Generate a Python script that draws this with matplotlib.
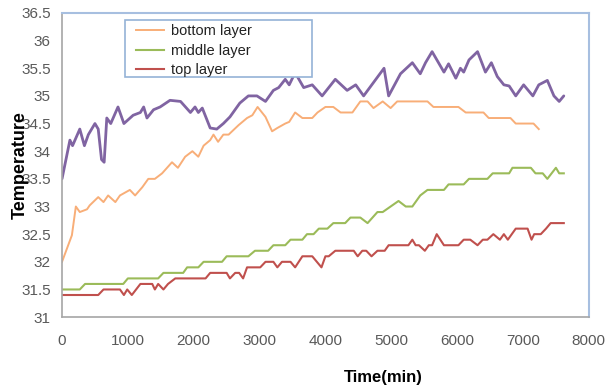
import matplotlib
matplotlib.use('Agg')
import matplotlib.pyplot as plt
from matplotlib.patches import Rectangle

# values
purple_x = [0, 120, 160, 270, 340, 400, 500, 550, 600, 640, 680, 740, 850, 940, 1080, 1190, 1240, 1290, 1390, 1490,
            1640, 1800, 1950, 2020, 2070, 2130, 2250, 2350, 2450, 2550, 2700, 2830, 2960, 3090, 3210, 3290, 3390, 3450,
            3540, 3670, 3800, 3950, 4150, 4330, 4460, 4580, 4890, 4960, 5140, 5320, 5440, 5520, 5620, 5800, 5870, 5980,
            6050, 6100, 6180, 6310, 6430, 6520, 6610, 6710, 6790, 6890, 7010, 7150, 7240, 7370, 7470, 7550, 7620]
purple_y = [33.5, 34.2, 34.1, 34.4, 34.1, 34.3, 34.5, 34.4, 33.85, 33.8, 34.6, 34.5, 34.8, 34.5, 34.65, 34.7, 34.8,
            34.6, 34.75, 34.8, 34.92, 34.9, 34.7, 34.8, 34.7, 34.78, 34.42, 34.4, 34.5, 34.62, 34.87, 35.0, 35.0, 34.9,
            35.1, 35.15, 35.3, 35.2, 35.42, 35.15, 35.2, 35.0, 35.3, 35.1, 35.2, 35.0, 35.5, 35.0, 35.4, 35.6, 35.4,
            35.6, 35.8, 35.43, 35.58, 35.32, 35.5, 35.43, 35.65, 35.8, 35.43, 35.6, 35.35, 35.2, 35.18, 35.0, 35.2,
            35.0, 35.2, 35.28, 35.0, 34.9, 35.0]

bottom_x = [0, 150, 210, 270, 380, 420, 550, 630, 700, 810, 880, 1030, 1110, 1220, 1310, 1410, 1520, 1670, 1760, 1870,
            1980, 2070, 2150, 2250, 2300, 2370, 2450, 2530, 2680, 2810, 2890, 2970, 3090, 3190, 3270, 3390, 3450, 3540,
            3650, 3800, 3880, 4000, 4120, 4230, 4410, 4530, 4640, 4730, 4870, 4990, 5090, 5550, 5640, 6020, 6130, 6400,
            6480, 6810, 6890, 7160, 7240]
bottom_y = [32.0, 32.48, 33.0, 32.9, 32.95, 33.02, 33.17, 33.08, 33.2, 33.08, 33.2, 33.3, 33.2, 33.35, 33.5, 33.5,
            33.6, 33.8, 33.7, 33.9, 34.0, 33.9, 34.1, 34.2, 34.3, 34.17, 34.3, 34.3, 34.47, 34.6, 34.65, 34.8, 34.62,
            34.36, 34.42, 34.5, 34.53, 34.7, 34.6, 34.6, 34.7, 34.8, 34.8, 34.7, 34.7, 34.9, 34.9, 34.78, 34.9, 34.78,
            34.9, 34.9, 34.8, 34.8, 34.7, 34.7, 34.6, 34.6, 34.5, 34.5, 34.4]

middle_x = [0, 270, 350, 930, 1000, 1460, 1540, 1840, 1900, 2070, 2150, 2430, 2500, 2830, 2930, 3130, 3210, 3390, 3470,
            3650, 3720, 3820, 3900, 4030, 4120, 4300, 4380, 4530, 4640, 4790, 4870, 4990, 5110, 5220, 5320, 5440, 5550,
            5800, 5870, 6100, 6180, 6460, 6540, 6790, 6840, 7120, 7190, 7300, 7370, 7500, 7550, 7620]
middle_y = [31.5, 31.5, 31.6, 31.6, 31.7, 31.7, 31.8, 31.8, 31.9, 31.9, 32.0, 32.0, 32.1, 32.1, 32.2, 32.2, 32.3, 32.3,
            32.4, 32.4, 32.5, 32.5, 32.6, 32.6, 32.7, 32.7, 32.8, 32.8, 32.7, 32.9, 32.9, 33.0, 33.1, 33.0, 33.0, 33.2,
            33.3, 33.3, 33.4, 33.4, 33.5, 33.5, 33.6, 33.6, 33.7, 33.7, 33.6, 33.6, 33.5, 33.7, 33.6, 33.6]

top_x = [0, 550, 630, 880, 940, 990, 1060, 1190, 1370, 1410, 1460, 1540, 1610, 1720, 2180, 2250, 2500, 2550, 2630, 2690,
         2750, 2810, 3010, 3090, 3210, 3270, 3340, 3470, 3540, 3650, 3800, 3940, 4000, 4050, 4150, 4430, 4490, 4560,
         4620, 4700, 4790, 4900, 4960, 5260, 5320, 5370, 5420, 5510, 5570, 5620, 5690, 5800, 6020, 6100, 6200, 6310,
         6390, 6460, 6550, 6650, 6710, 6770, 6890, 7070, 7130, 7170, 7270, 7350, 7420, 7620]
top_y = [31.4, 31.4, 31.5, 31.5, 31.4, 31.5, 31.4, 31.6, 31.6, 31.5, 31.6, 31.5, 31.6, 31.7, 31.7, 31.8, 31.8, 31.7,
         31.8, 31.8, 31.7, 31.9, 31.9, 32.0, 32.0, 31.9, 32.0, 32.0, 31.9, 32.1, 32.1, 31.9, 32.1, 32.1, 32.2, 32.2,
         32.1, 32.2, 32.2, 32.1, 32.2, 32.2, 32.3, 32.3, 32.4, 32.3, 32.3, 32.2, 32.3, 32.3, 32.5, 32.3, 32.3, 32.4,
         32.4, 32.3, 32.4, 32.4, 32.5, 32.4, 32.5, 32.4, 32.6, 32.6, 32.4, 32.5, 32.5, 32.6, 32.7, 32.7]

x_ticks = [0, 1000, 2000, 3000, 4000, 5000, 6000, 7000, 8000]
y_ticks = [31, 31.5, 32, 32.5, 33, 33.5, 34, 34.5, 35, 35.5, 36, 36.5]
y_labels = ['31', '31.5', '32', '32.5', '33', '33.5', '34', '34.5', '35', '35.5', '36', '36.5']

plt.rcParams['font.family'] = ['Liberation Sans', 'DejaVu Sans']

fig = plt.figure(figsize=(6.14, 3.92), dpi=100)
ax = fig.add_axes([0.101, 0.191, 0.858, 0.776])

ax.plot(purple_x, purple_y, color='#8064A2', lw=2.0, solid_joinstyle='round', solid_capstyle='round')
ax.plot(bottom_x, bottom_y, color='#F8AE78', lw=1.4, label='bottom layer')
ax.plot(middle_x, middle_y, color='#9BBB59', lw=1.5, label='middle layer')
ax.plot(top_x, top_y, color='#C0504D', lw=1.5, label='top layer')

ax.set_xlim(0, 8000)
ax.set_ylim(31, 36.5)
ax.set_xticks(x_ticks)
ax.set_yticks(y_ticks)
ax.set_yticklabels(y_labels)
ax.tick_params(length=0, labelsize=11, colors='#595959')
ax.tick_params(axis='y', pad=8)
ax.tick_params(axis='x', pad=12)

for side in ['left', 'bottom']:
    ax.spines[side].set_color('#A6A6A6')
    ax.spines[side].set_linewidth(1.2)
for side in ['top', 'right']:
    ax.spines[side].set_color('#A7BFE0')
    ax.spines[side].set_linewidth(1.5)

fig.text(0.624, 0.038, 'Time(min)', fontsize=12, fontweight='bold', ha='center', va='center')
fig.text(0.033, 0.58, 'Temperature', rotation=90, fontsize=13, fontweight='bold', ha='center', va='center')

# legend box drawn separately, as wide as in the reference
fig.patches.append(Rectangle((0.2036, 0.8036), 0.3046, 0.1454, transform=fig.transFigure,
                             facecolor='white', edgecolor='#95B3D7', lw=1.2, zorder=5))
leg = fig.legend(loc='upper left', bbox_to_anchor=(0.221, 0.938), fontsize=10.5, frameon=False,
                 borderpad=0, labelspacing=0.38, handlelength=1.95, handletextpad=0.5, borderaxespad=0)
leg.set_zorder(6)
for t in leg.get_texts():
    t.set_color('#222222')

fig.savefig('out.png', dpi=100)
